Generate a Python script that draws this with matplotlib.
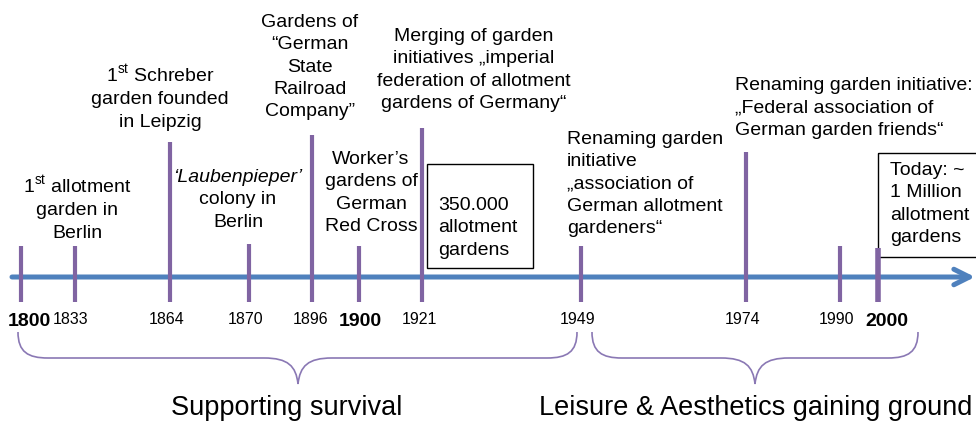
import matplotlib.pyplot as plt
from matplotlib.path import Path
from matplotlib.patches import PathPatch, Rectangle

plt.rcParams['font.family'] = ['Liberation Sans', 'DejaVu Sans']
plt.rcParams['mathtext.fontset'] = 'custom'
plt.rcParams['mathtext.rm'] = 'Liberation Sans'

# data
years = [1800, 1833, 1864, 1870, 1896, 1900, 1921, 1949, 1974, 1990, 2000]
bold_years = [1800, 1900, 2000]

events = [
    r"1$^{\rm st}$ allotment" + "\ngarden in\nBerlin",
    r"1$^{\rm st}$ Schreber" + "\ngarden founded\nin Leipzig",
    "colony in\nBerlin",
    "Gardens of\n\u201cGerman\nState\nRailroad\nCompany\u201d",
    "Worker\u2019s\ngardens of\nGerman\nRed Cross",
    "Merging of garden\ninitiatives \u201eimperial\nfederation of allotment\ngardens of Germany\u201c",
    "Renaming garden\ninitiative\n\u201eassociation of\nGerman allotment\ngardeners\u201c",
    "Renaming garden initiative:\n\u201eFederal association of\nGerman garden friends\u201c",
]
italic_title = "\u2018Laubenpieper\u2019"
box1 = "350.000\nallotment\ngardens"
box2 = "Today: ~\n1 Million\nallotment\ngardens"
periods = ["Supporting survival", "Leisure & Aesthetics gaining ground"]

# layout (schematic timeline, pixel coords)
tick_x = [21, 75, 170, 249, 312, 359, 422, 581, 746, 840, 878]
tick_top = [246, 246, 142, 244, 135, 246, 128, 246, 152, 246, 248]
label_x = [29, 71, 167, 246, 311, 360, 419, 578, 743, 837, 887]
event_pos = [(77, 208, 'center'), (160, 97, 'center'), (238, 211, 'center'),
             (310, 67, 'center'), (371, 193, 'center'), (474, 70, 'center'),
             (567, 184, 'left'), (735, 108, 'left')]

blue = '#4F81BD'
purple = '#8064A2'
lsp = 1.42

fig = plt.figure(figsize=(9.76, 4.26), dpi=100)
ax = fig.add_axes([0, 0, 1, 1])
ax.set_xlim(0, 976)
ax.set_ylim(426, 0)
ax.axis('off')

# arrow
ax.annotate('', xy=(975, 277), xytext=(12, 277),
            arrowprops=dict(arrowstyle='->', lw=3.6, color=blue,
                            mutation_scale=28, shrinkA=0, shrinkB=0))

for yr, x, top, lx in zip(years, tick_x, tick_top, label_x):
    lw = 4 if yr == 2000 else 3
    ax.plot([x, x], [top, 302], color=purple, lw=lw, solid_capstyle='butt', zorder=3)
    if yr in bold_years:
        ax.text(lx, 321, str(yr), ha='center', va='center', fontsize=14,
                fontweight='bold')
    else:
        ax.text(lx, 319, str(yr), ha='center', va='center', fontsize=11.5)

for txt, (x, y, ha) in zip(events, event_pos):
    ax.text(x, y, txt, ha=ha, va='center', fontsize=14, linespacing=lsp,
            multialignment=ha)
ax.text(238, 177, italic_title, ha='center', va='center', fontsize=14,
        style='italic')

# boxes
ax.add_patch(Rectangle((427, 164), 106, 104, fill=False, ec='black', lw=1))
ax.text(438, 228, box1, ha='left', va='center', fontsize=14, linespacing=lsp)
ax.add_patch(Rectangle((878, 153), 110, 104, fill=False, ec='black', lw=1))
ax.text(890, 204, box2, ha='left', va='center', fontsize=14, linespacing=lsp)


def brace(x0, x1, xc, ytop=332, ymid=358, ytip=384, r=30):
    verts = [(x0, ytop),
             (x0, ymid - 6), (x0 + 10, ymid), (x0 + r, ymid),
             (xc - r - 4, ymid),
             (xc - 10, ymid), (xc - 2, ymid + 8), (xc, ytip),
             (xc + 2, ymid + 8), (xc + 10, ymid), (xc + r + 4, ymid),
             (x1 - r, ymid),
             (x1 - 10, ymid), (x1, ymid - 6), (x1, ytop)]
    codes = [Path.MOVETO,
             Path.CURVE4, Path.CURVE4, Path.CURVE4,
             Path.LINETO,
             Path.CURVE4, Path.CURVE4, Path.CURVE4,
             Path.CURVE4, Path.CURVE4, Path.CURVE4,
             Path.LINETO,
             Path.CURVE4, Path.CURVE4, Path.CURVE4]
    ax.add_patch(PathPatch(Path(verts, codes), fill=False, ec='#8A78B4', lw=1.2))


brace(18, 577, 298)
brace(592, 918, 755)

ax.text(287, 408, periods[0], ha='center', va='center', fontsize=19.5)
ax.text(756, 408, periods[1], ha='center', va='center', fontsize=19.5)

fig.savefig('out.png', dpi=100)
